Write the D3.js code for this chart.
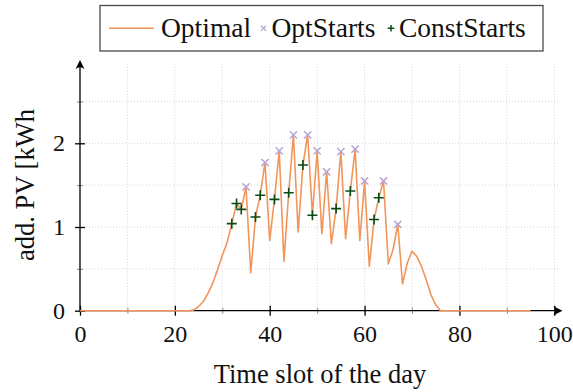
<!DOCTYPE html>
<html>
<head>
<meta charset="utf-8">
<script src="https://cdn.jsdelivr.net/npm/d3@7"></script>
<style>
  html, body { margin: 0; padding: 0; background: #fff; }
  svg { display: block; }
</style>
</head>
<body>
<svg id="chart" width="573" height="392"></svg>
<script>
// Additional PV energy per time slot (kWh), slots 0..95
const optimal = [
  0, 0, 0, 0, 0, 0, 0, 0, 0, 0, 0, 0, 0, 0, 0, 0, 0, 0, 0, 0, 0, 0, 0, 0,
  0.01, 0.05, 0.11, 0.21, 0.33, 0.49, 0.66, 0.81,
  1.04, 1.28, 1.21, 1.48, 0.45, 1.12, 1.38, 1.77,
  0.84, 1.33, 1.91, 0.59, 1.41, 2.10, 0.94, 1.74,
  2.10, 1.14, 1.91, 0.92, 1.66, 0.80, 1.22, 1.90,
  0.86, 1.43, 1.93, 0.84, 1.55, 0.53, 1.09, 1.35,
  1.55, 0.56, 0.73, 1.03, 0.32, 0.57, 0.71, 0.65,
  0.53, 0.37, 0.19, 0.07, 0,
  0, 0, 0, 0, 0, 0, 0, 0, 0, 0, 0, 0, 0, 0, 0, 0, 0, 0, 0
];
// Slots at which devices start
const optStarts = [35, 39, 42, 45, 48, 50, 52, 55, 58, 60, 64, 67];
const constStarts = [32, 33, 34, 37, 38, 41, 44, 47, 49, 54, 57, 62, 63];

const xMajor = [0, 20, 40, 60, 80, 100];
const xMinor = [10, 30, 50, 70, 90];
const yMajor = [0, 1, 2];
const yMinor = [0.5, 1.5, 2.5];
const xGrid = [10, 20, 30, 40, 50, 60, 70, 80, 90, 100];
const yGrid = [0.5, 1, 1.5, 2, 2.5];

const legendLabels = ["Optimal", "OptStarts", "ConstStarts"];
const xTitle = "Time slot of the day";
const yTitle = "add. PV [kWh";

const serif = "'Liberation Serif', 'DejaVu Serif', serif";
const colLine = "#f2955a";
const colOpt = "#b7a4d4";
const colConst = "#0b4a12";

const svg = d3.select("#chart");
const x = d3.scaleLinear().domain([0, 100]).range([80, 554.3]);
const y = d3.scaleLinear().domain([0, 2]).range([310.7, 143.3]);
const xEnd = 562.5, yEnd = 60;

// grid
const grid = svg.append("g").attr("stroke", "#c8c8c8").attr("stroke-width", 0.8)
  .attr("stroke-dasharray", "1,2");
grid.selectAll("line.v").data(xGrid).join("line")
  .attr("x1", d => x(d)).attr("x2", d => x(d))
  .attr("y1", y(0)).attr("y2", 64);
grid.selectAll("line.h").data(yGrid).join("line")
  .attr("x1", x(0)).attr("x2", 560)
  .attr("y1", d => y(d)).attr("y2", d => y(d));

// x axis
const gx = svg.append("g").attr("transform", `translate(0,${y(0)})`)
  .call(d3.axisBottom(x).tickValues(xMajor).tickSize(5).tickPadding(9).tickFormat(d3.format("d")));
gx.attr("font-family", null).attr("font-size", null);
gx.select(".domain").remove();
gx.selectAll(".tick line").attr("y1", -5).attr("y2", 5).attr("stroke", "#000").attr("stroke-width", 1.3);
gx.selectAll(".tick text").style("font-family", serif).style("font-size", "24px").attr("fill", "#111");

const gxm = svg.append("g").attr("transform", `translate(0,${y(0)})`)
  .call(d3.axisBottom(x).tickValues(xMinor).tickSize(3).tickFormat(""));
gxm.select(".domain").remove();
gxm.selectAll(".tick line").attr("y1", -3).attr("y2", 3).attr("stroke", "#888").attr("stroke-width", 1);

// y axis
const gy = svg.append("g").attr("transform", `translate(${x(0)},0)`)
  .call(d3.axisLeft(y).tickValues(yMajor).tickSize(5).tickPadding(10).tickFormat(d3.format("d")));
gy.attr("font-family", null).attr("font-size", null);
gy.select(".domain").remove();
gy.selectAll(".tick line").attr("x1", -5).attr("x2", 5).attr("stroke", "#000").attr("stroke-width", 1.3);
gy.selectAll(".tick text").style("font-family", serif).style("font-size", "24px").attr("fill", "#111");

const gym = svg.append("g").attr("transform", `translate(${x(0)},0)`)
  .call(d3.axisLeft(y).tickValues(yMinor).tickSize(3).tickFormat(""));
gym.select(".domain").remove();
gym.selectAll(".tick line").attr("x1", -3).attr("x2", 3).attr("stroke", "#888").attr("stroke-width", 1);

// axis lines with arrowheads
svg.append("line").attr("x1", x(0)).attr("x2", xEnd - 4).attr("y1", y(0)).attr("y2", y(0))
  .attr("stroke", "#000").attr("stroke-width", 1.3);
svg.append("line").attr("x1", x(0)).attr("x2", x(0)).attr("y1", y(0)).attr("y2", yEnd + 4)
  .attr("stroke", "#000").attr("stroke-width", 1.3);
const arrow = "M0,0 L-9,-4.5 Q-5.5,0 -9,4.5 Z";
svg.append("path").attr("d", arrow).attr("fill", "#000")
  .attr("transform", `translate(${xEnd},${y(0)})`);
svg.append("path").attr("d", arrow).attr("fill", "#000")
  .attr("transform", `translate(${x(0)},${yEnd}) rotate(-90)`);

// optimal curve
const line = d3.line().x((d, i) => x(i)).y(d => y(d));
svg.append("path").datum(optimal).attr("d", line)
  .attr("fill", "none").attr("stroke", colLine).attr("stroke-width", 1.6)
  .attr("stroke-linejoin", "round");

// start markers
const cross = s => `M${-s},${-s}L${s},${s}M${-s},${s}L${s},${-s}`;
const plus = s => `M${-s},0L${s},0M0,${-s}L0,${s}`;
svg.append("g").selectAll("path").data(optStarts).join("path")
  .attr("d", cross(3.6))
  .attr("transform", d => `translate(${x(d)},${y(optimal[d])})`)
  .attr("stroke", colOpt).attr("stroke-width", 1.5).attr("fill", "none");
svg.append("g").selectAll("path").data(constStarts).join("path")
  .attr("d", plus(5))
  .attr("transform", d => `translate(${x(d)},${y(optimal[d])})`)
  .attr("stroke", colConst).attr("stroke-width", 1.6).attr("fill", "none");

// text helper
function label(parent, px, py, size, str, anchor, transform) {
  const t = parent.append("text")
    .style("font-family", serif).style("font-size", size + "px")
    .attr("fill", "#111").attr("text-anchor", anchor || "start").text(str);
  if (transform) t.attr("transform", transform); else t.attr("x", px).attr("y", py);
  return t;
}

// axis titles
label(svg, 320, 383, 26.5, xTitle, "middle");
label(svg, 0, 0, 26.5, yTitle, "middle", "translate(34,185) rotate(-90)");

// legend
const lg = svg.append("g");
lg.append("rect").attr("x", 100).attr("y", 5.5).attr("width", 443).attr("height", 45.5)
  .attr("fill", "#fff").attr("stroke", "#4a4a4a").attr("stroke-width", 1.3);
lg.append("line").attr("x1", 109).attr("x2", 154).attr("y1", 28.3).attr("y2", 28.3)
  .attr("stroke", colLine).attr("stroke-width", 1.6);
label(lg, 161, 36.5, 27.5, legendLabels[0]);
lg.append("path").attr("d", cross(2.6)).attr("transform", "translate(263.5,28.3)")
  .attr("stroke", colOpt).attr("stroke-width", 1.3).attr("fill", "none");
label(lg, 271.5, 36.5, 27.5, legendLabels[1]);
lg.append("path").attr("d", plus(3.3)).attr("transform", "translate(391,28.3)")
  .attr("stroke", colConst).attr("stroke-width", 1.5).attr("fill", "none");
label(lg, 399, 36.5, 27.5, legendLabels[2]);
</script>
</body>
</html>
